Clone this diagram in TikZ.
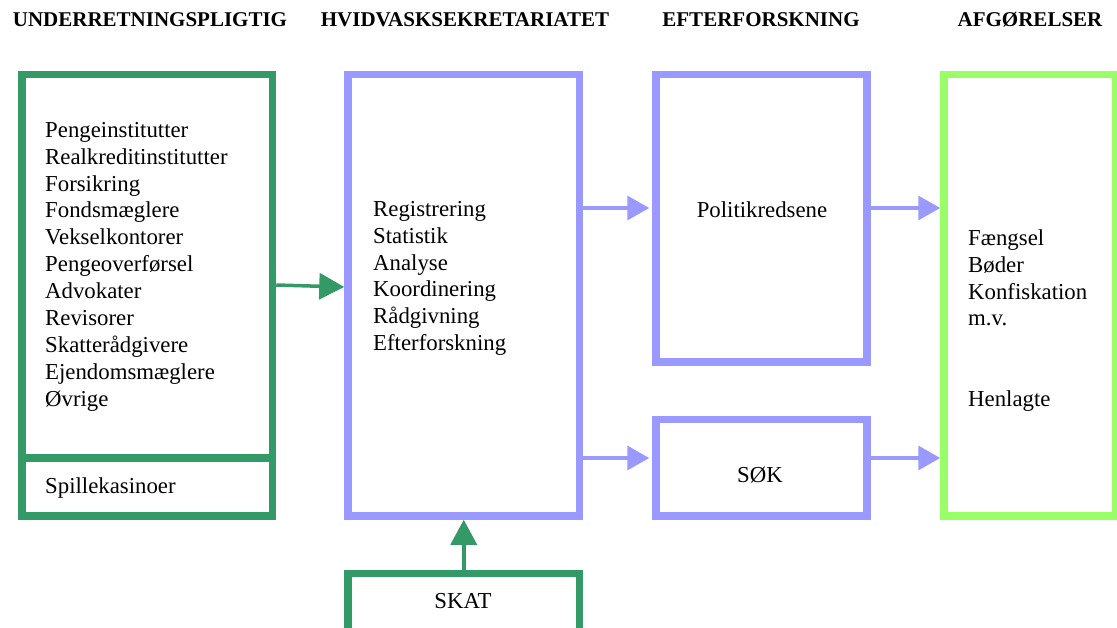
\documentclass[tikz,border=0pt]{standalone}
\usepackage{fontspec}
\setmainfont{Liberation Serif}
\usetikzlibrary{arrows.meta}
\definecolor{dgreen}{RGB}{51,153,102}
\definecolor{lpurple}{RGB}{153,153,255}
\definecolor{lgreen}{RGB}{153,255,102}
\begin{document}
\begin{tikzpicture}[x=1pt,y=-1pt,
  box/.style={draw,line width=7.5pt,inner sep=0pt},
  hdr/.style={font=\fontsize{21}{25}\selectfont\bfseries, anchor=base, inner sep=0pt},
  txt/.style={font=\fontsize{22.8}{26.9}\selectfont, align=left, anchor=north west, inner sep=0pt},
  lbl/.style={font=\fontsize{22.8}{26.9}\selectfont, inner sep=0pt},
  garrow/.style={draw=dgreen, fill=dgreen, line width=3.5pt, -{Triangle[length=25pt,width=26pt]}},
  parrow/.style={draw=lpurple, fill=lpurple, line width=3.5pt, -{Triangle[length=22pt,width=24pt]}}]
\useasboundingbox (0,0) rectangle (1117,628);
\clip (0,0) rectangle (1117,628);

% headers
\node[hdr] (h1) at (150,27) {UNDERRETNINGSPLIGTIG};
\node[hdr] (h2) at (465,27) {HVIDVASKSEKRETARIATET};
\node[hdr] (h3) at (761,27) {EFTERFORSKNING};
\node[hdr] (h4) at (1030,27) {AFGØRELSER};

% boxes
\node[box, draw=dgreen, minimum width=250.5pt, minimum height=383.5pt] (und) at (147.25,266.25) {};
\node[box, draw=dgreen, minimum width=250.5pt, minimum height=58pt] (spil) at (147.25,487) {};
\node[box, draw=lpurple, minimum width=231.5pt, minimum height=441.5pt] (hv) at (463.75,295.25) {};
\node[box, draw=lpurple, minimum width=211pt, minimum height=287.5pt] (pol) at (761.5,218.25) {};
\node[box, draw=lpurple, minimum width=211pt, minimum height=96.5pt] (sok) at (761.5,467.75) {};
\node[box, draw=lgreen, minimum width=172pt, minimum height=441.5pt] (afg) at (1030,295.25) {};
\node[box, draw=dgreen, minimum width=231.5pt, minimum height=86.5pt] (skat) at (463.75,616.75) {};

% texts
\node[txt] (undtxt) at (45,118.2) {\strut Pengeinstitutter\\Realkreditinstitutter\\Forsikring\\Fondsmæglere\\Vekselkontorer\\Pengeoverførsel\\Advokater\\Revisorer\\Skatterådgivere\\Ejendomsmæglere\\Øvrige};
\node[lbl, anchor=base west] (spiltxt) at (45,493) {Spillekasinoer};
\node[txt] (hvtxt) at (373,197.2) {\strut Registrering\\Statistik\\Analyse\\Koordinering\\Rådgivning\\Efterforskning};
\node[lbl, anchor=base] (poltxt) at (762,218) {Politikredsene};
\node[lbl, anchor=base] (soktxt) at (760,482) {SØK};
\node[lbl, anchor=base] (skattxt) at (463,608) {SKAT};
\node[txt] (afgtxt) at (968,226.2) {\strut Fængsel\\Bøder\\Konfiskation\\m.v.\\[53.8pt]Henlagte};

% arrows
\draw[garrow] (und.east |- 0,285) -- (hv.west |- 0,287);
\draw[parrow, shorten >=3pt] (hv.east |- 0,208) -- (pol.west |- 0,208);
\draw[parrow, shorten >=3pt] (hv.east |- 0,458) -- (sok.west |- 0,458);
\draw[parrow] (pol.east |- 0,208) -- (afg.west |- 0,208);
\draw[parrow] (sok.east |- 0,458) -- (afg.west |- 0,458);
\draw[garrow] (skat.north) -- (hv.south);
\end{tikzpicture}
\end{document}
